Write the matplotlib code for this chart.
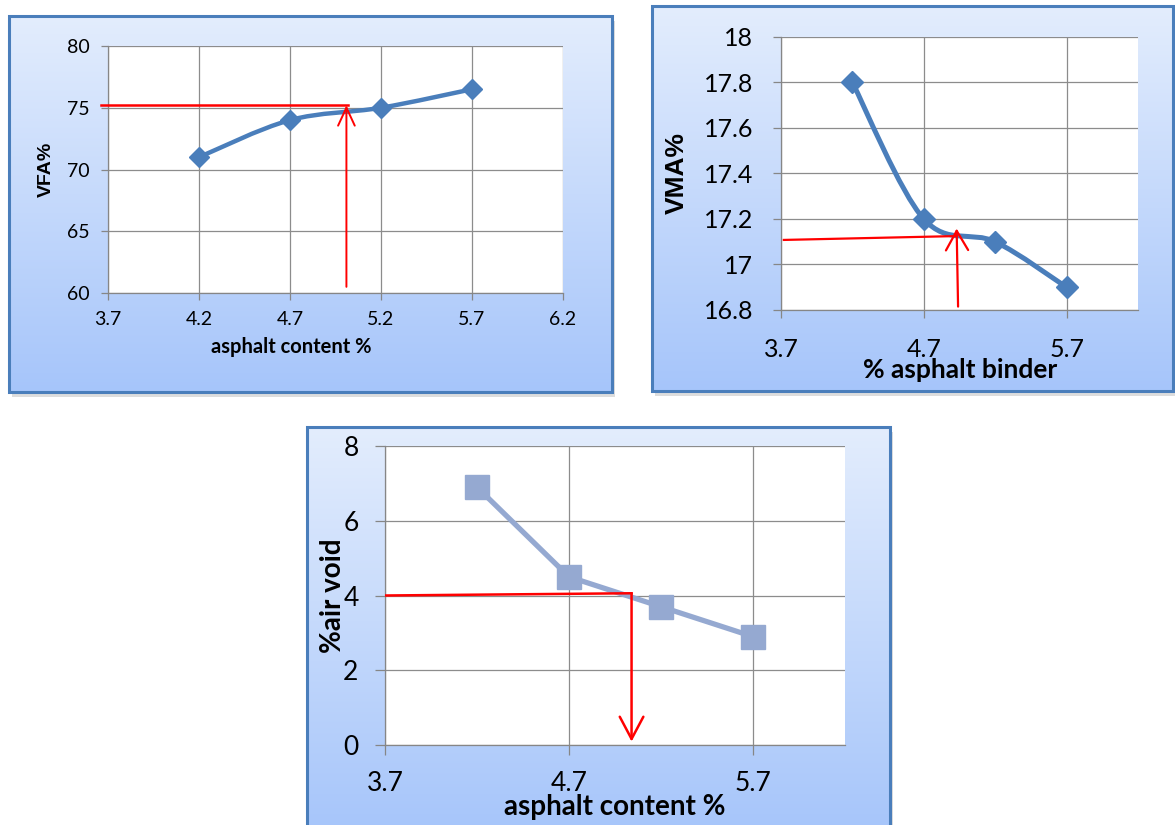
import matplotlib.pyplot as plt
import numpy as np
from matplotlib.patches import PathPatch, Rectangle, FancyArrowPatch
from matplotlib.path import Path
from matplotlib.colors import LinearSegmentedColormap

plt.rcParams['font.family'] = ['Lato', 'DejaVu Sans']

# VFA chart
vfa_binder = [4.2, 4.7, 5.2, 5.7]
vfa_values = [71.0, 74.0, 75.0, 76.5]
vfa_xticks = [3.7, 4.2, 4.7, 5.2, 5.7, 6.2]
vfa_xlabels = ['3.7', '4.2', '4.7', '5.2', '5.7', '6.2']
vfa_yticks = [60, 65, 70, 75, 80]
vfa_ylabels = ['60', '65', '70', '75', '80']
# red read-off for VFA
vfa_guide_x = [3.66, 5.02]
vfa_guide_y = [75.2, 75.2]
vfa_arrow = [(5.01, 60.5), (5.01, 75.2)]

# VMA chart
vma_binder = [4.2, 4.7, 5.2, 5.7]
vma_values = [17.8, 17.2, 17.1, 16.9]
vma_xticks = [3.7, 4.7, 5.7]
vma_xlabels = ['3.7', '4.7', '5.7']
vma_yticks = [16.8, 17.0, 17.2, 17.4, 17.6, 17.8, 18.0]
vma_ylabels = ['16.8', '17', '17.2', '17.4', '17.6', '17.8', '18']
vma_guide_x = [3.72, 4.93]
vma_guide_y = [17.108, 17.125]
vma_arrow = [(4.94, 16.815), (4.93, 17.158)]

# air void chart
av_binder = [4.2, 4.7, 5.2, 5.7]
av_values = [6.9, 4.5, 3.7, 2.9]
av_xticks = [3.7, 4.7, 5.7]
av_xlabels = ['3.7', '4.7', '5.7']
av_yticks = [0, 2, 4, 6, 8]
av_ylabels = ['0', '2', '4', '6', '8']
av_guide_x = [3.7, 5.04]
av_guide_y = [4.0, 4.06]
av_arrow = [(5.04, 4.06), (5.04, 0.09)]

W, H = 1175, 825
BLUE = '#4A7EBB'
LIGHT = '#95A9D1'
GRID = '#8C8C8C'

fig = plt.figure(figsize=(W / 100, H / 100), dpi=100)
fig.patch.set_facecolor('white')

grad_cmap = LinearSegmentedColormap.from_list('bg', ['#E3EDFD', '#A6C5FA'])


def px_rect(x0, y0, x1, y1):
    return [x0 / W, 1 - y1 / H, (x1 - x0) / W, (y1 - y0) / H]


def panel_bg(x0, y0, x1, y1):
    # soft shadow then gradient box with blue border
    fig.add_artist(Rectangle((x0 / W + 3 / W, 1 - (y1 + 5) / H), (x1 - x0) / W, (y1 - y0) / H,
                             transform=fig.transFigure, fc='#cfcfcf', ec='none',
                             alpha=0.7, zorder=-1))
    bg = fig.add_axes(px_rect(x0, y0, x1, y1))
    bg.imshow(np.linspace(0, 1, 256).reshape(-1, 1), cmap=grad_cmap, aspect='auto',
              extent=[0, 1, 0, 1], origin='upper')
    bg.add_patch(Rectangle((0, 0), 1, 1, transform=bg.transAxes, fill=False,
                           ec=BLUE, lw=2.2, clip_on=False))
    bg.set_axis_off()


def chart_axes(x0, y0, x1, y1, tick_len, pad, fsize):
    ax = fig.add_axes(px_rect(x0, y0, x1, y1))
    ax.set_facecolor('white')
    ax.spines['top'].set_visible(False)
    ax.spines['right'].set_visible(False)
    for s in ['left', 'bottom']:
        ax.spines[s].set_color('#868686')
        ax.spines[s].set_linewidth(0.9)
    ax.grid(True, color=GRID, lw=0.9)
    ax.set_axisbelow(True)
    ax.tick_params(direction='out', length=tick_len, width=0.9, color='#868686',
                   pad=pad, labelsize=fsize, labelcolor='black')
    return ax


def smooth_path(xs, ys):
    pts = np.column_stack([xs, ys])
    n = len(pts)
    verts = [pts[0]]
    codes = [Path.MOVETO]
    for i in range(n - 1):
        p_prev = pts[max(i - 1, 0)]
        p_after = pts[min(i + 2, n - 1)]
        c1 = pts[i] + (pts[i + 1] - p_prev) / 6
        c2 = pts[i + 1] - (p_after - pts[i]) / 6
        verts += [c1, c2, pts[i + 1]]
        codes += [Path.CURVE4] * 3
    return Path(verts, codes)


def red_arrow(ax, start, end, hl, hw, lw):
    ax.add_patch(FancyArrowPatch(start, end, arrowstyle=f'->,head_length={hl},head_width={hw}',
                                 mutation_scale=1, color='red', lw=lw, shrinkA=0, shrinkB=0,
                                 zorder=6, clip_on=False))


# ---- VFA ----
panel_bg(9, 16, 612, 392)
ax1 = chart_axes(108, 46, 563, 293, 5, 8, 14)
ax1.set_xlim(3.7, 6.2)
ax1.set_ylim(60, 80)
ax1.set_xticks(vfa_xticks, vfa_xlabels)
ax1.set_yticks(vfa_yticks, vfa_ylabels)
ax1.add_patch(PathPatch(smooth_path(vfa_binder, vfa_values), fc='none', ec=BLUE, lw=3.2,
                        capstyle='round', joinstyle='round', zorder=3))
ax1.plot(vfa_binder, vfa_values, ls='none', marker='D', ms=10, color=BLUE, zorder=4)
ax1.plot(vfa_guide_x, vfa_guide_y, color='red', lw=1.8, zorder=6, clip_on=False)
red_arrow(ax1, vfa_arrow[0], vfa_arrow[1], 13, 6, 1.4)
ax1.set_xlabel('asphalt content %', fontsize=14.5, fontweight='bold', va='center')
ax1.xaxis.set_label_coords(0.402, -0.219)
ax1.set_ylabel('VFA%', fontsize=14, fontweight='bold', family='Liberation Sans', va='center')
ax1.yaxis.set_label_coords(-0.136, 0.5)

# ---- VMA ----
panel_bg(652, 6, 1173, 391)
ax2 = chart_axes(781, 37, 1138, 310, 6, 14, 18)
ax2.set_xlim(3.7, 6.2)
ax2.set_ylim(16.8, 18)
ax2.set_xticks(vma_xticks, vma_xlabels)
ax2.set_yticks(vma_yticks, vma_ylabels)
ax2.add_patch(PathPatch(smooth_path(vma_binder, vma_values), fc='none', ec=BLUE, lw=3.6,
                        capstyle='round', joinstyle='round', zorder=3))
ax2.plot(vma_binder, vma_values, ls='none', marker='D', ms=11, color=BLUE, zorder=4)
ax2.plot(vma_guide_x, vma_guide_y, color='red', lw=1.6, zorder=6, clip_on=False)
red_arrow(ax2, vma_arrow[0], vma_arrow[1], 14, 8, 1.6)
ax2.set_xlabel('% asphalt binder', fontsize=19, fontweight='bold', va='center')
ax2.xaxis.set_label_coords(0.501, -0.22)
ax2.set_ylabel('VMA%', fontsize=19, fontweight='bold', family='Liberation Sans', va='center')
ax2.yaxis.set_label_coords(-0.291, 0.502)

# ---- air voids ----
panel_bg(307, 427, 890, 835)
ax3 = chart_axes(385, 446, 845, 745, 7, 12, 19)
ax3.set_xlim(3.7, 6.2)
ax3.set_ylim(0, 8)
ax3.set_xticks(av_xticks, av_xlabels)
ax3.set_yticks(av_yticks, av_ylabels)
ax3.plot(av_binder, av_values, color=LIGHT, lw=3.8, marker='s', ms=17, zorder=4)
ax3.plot(av_guide_x, av_guide_y, color='red', lw=1.8, zorder=6)
red_arrow(ax3, av_arrow[0], av_arrow[1], 16, 8.5, 1.8)
ax3.set_xlabel('asphalt content %', fontsize=20, fontweight='bold', va='center')
ax3.xaxis.set_label_coords(0.5, -0.207)
ax3.set_ylabel('%air void', fontsize=20, fontweight='bold', va='center')
ax3.yaxis.set_label_coords(-0.113, 0.498)

fig.savefig('out.png', dpi=100)
